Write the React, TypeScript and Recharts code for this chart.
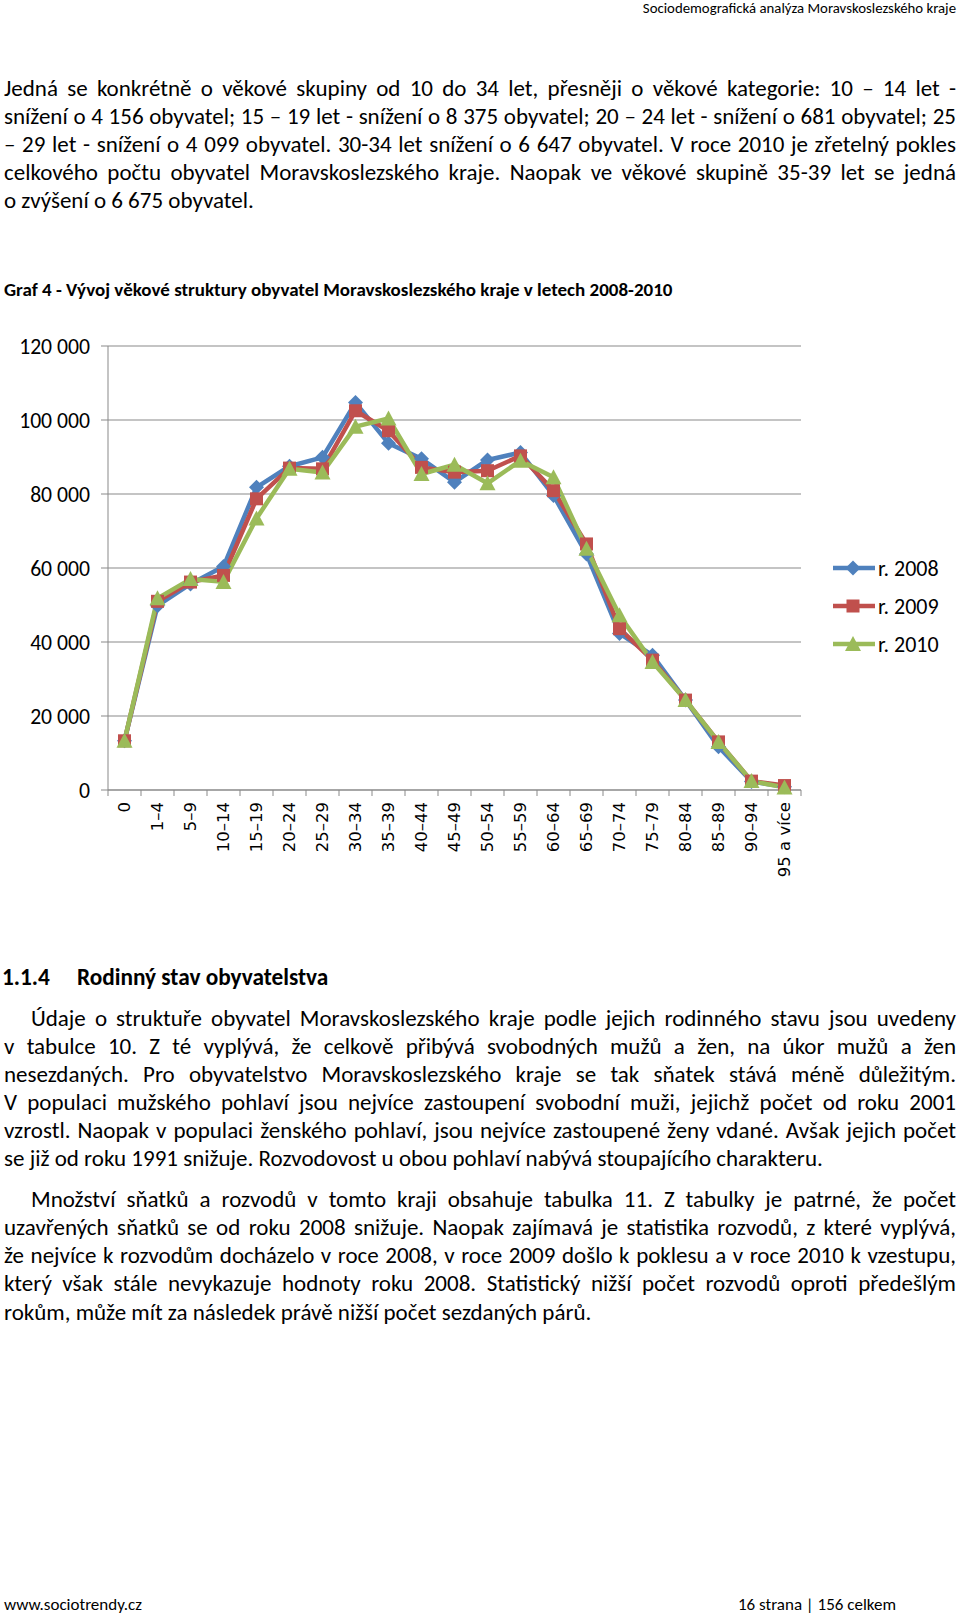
import React from 'react';
import { LineChart, Line, XAxis, YAxis, CartesianGrid, Legend } from 'recharts';

const categories = ['0', '1–4', '5–9', '10–14', '15–19', '20–24', '25–29', '30–34', '35–39', '40–44', '45–49', '50–54', '55–59', '60–64', '65–69', '70–74', '75–79', '80–84', '85–89', '90–94', '95 a více'];
const r2008 = [13300, 49800, 55700, 60400, 81800, 87500, 89900, 104700, 93700, 89500, 83200, 89200, 91200, 79600, 63800, 42300, 36400, 24300, 11700, 2300, 900];
const r2009 = [13300, 51000, 56200, 58000, 78700, 87000, 86800, 102500, 97100, 87200, 85900, 86300, 90300, 80900, 66500, 43600, 35100, 24300, 13000, 2400, 1200];
const r2010 = [13300, 51800, 57000, 56250, 73400, 86800, 85800, 98200, 100400, 85400, 87900, 82900, 89000, 84500, 65200, 47200, 34600, 24300, 13000, 2400, 700];
const yTicks = [0, 20000, 40000, 60000, 80000, 100000, 120000];
const seriesNames = ['r. 2008', 'r. 2009', 'r. 2010'];

const headerText = 'Sociodemografická analýza Moravskoslezského kraje';
const para1 = [
  'Jedná se konkrétně o věkové skupiny od 10 do 34 let, přesněji o věkové kategorie: 10 – 14 let -',
  'snížení o 4 156 obyvatel; 15 – 19 let - snížení o 8 375 obyvatel; 20 – 24 let - snížení o 681 obyvatel; 25',
  '– 29 let - snížení o 4 099 obyvatel. 30-34 let snížení o 6 647 obyvatel. V roce 2010 je zřetelný pokles',
  'celkového počtu obyvatel Moravskoslezského kraje. Naopak ve věkové skupině 35-39 let se jedná',
  'o zvýšení o 6 675 obyvatel.',
];
const chartTitle = 'Graf 4 - Vývoj věkové struktury obyvatel Moravskoslezského kraje v letech 2008-2010';
const headingNum = '1.1.4';
const headingText = 'Rodinný stav obyvatelstva';
const para2 = [
  'Údaje o struktuře obyvatel Moravskoslezského kraje podle jejich rodinného stavu jsou uvedeny',
  'v tabulce 10.  Z té vyplývá, že celkově přibývá svobodných mužů a žen, na úkor mužů a žen',
  'nesezdaných. Pro obyvatelstvo Moravskoslezského kraje se tak sňatek stává méně důležitým.',
  'V populaci mužského pohlaví jsou nejvíce zastoupení svobodní muži, jejichž počet od roku 2001',
  'vzrostl. Naopak v populaci ženského pohlaví, jsou nejvíce zastoupené ženy vdané. Avšak jejich počet',
  'se již od roku 1991 snižuje. Rozvodovost u obou pohlaví nabývá stoupajícího charakteru.',
];
const para3 = [
  'Množství sňatků a rozvodů v tomto kraji obsahuje tabulka 11. Z tabulky je patrné, že počet',
  'uzavřených sňatků se od roku 2008 snižuje. Naopak zajímavá je statistika rozvodů, z které vyplývá,',
  'že nejvíce k rozvodům docházelo v roce 2008, v roce 2009 došlo k poklesu a v roce 2010 k vzestupu,',
  'který však stále nevykazuje hodnoty roku 2008. Statistický nižší počet rozvodů oproti předešlým',
  'rokům, může mít za následek právě nižší počet sezdaných párů.',
];
const footerLeft = 'www.sociotrendy.cz';
const footerRight = '16 strana | 156 celkem';

const data = categories.map((c, i) => ({ cat: c, a: r2008[i], b: r2009[i], c: r2010[i] }));

const BLUE = '#4F81BD';
const RED = '#C0504D';
const GREEN = '#9BBB59';
const GRID = '#898989';
const FONT = 'Carlito, Lato, "Noto Sans", sans-serif';

const fmt = (v: number) => String(v).replace(/\B(?=(\d{3})+(?!\d))/g, ' ');

function markerShape(kind: string, cx: number, cy: number, key?: string) {
  if (kind === 'a') {
    const r = 7.5;
    return <polygon key={key} points={`${cx},${cy - r} ${cx + r},${cy} ${cx},${cy + r} ${cx - r},${cy}`} fill={BLUE} />;
  }
  if (kind === 'b') {
    const s = 13;
    return <rect key={key} x={cx - s / 2} y={cy - s / 2} width={s} height={s} fill={RED} />;
  }
  const w = 16, h = 14;
  return <polygon key={key} points={`${cx},${cy - h / 2 - 1} ${cx + w / 2},${cy + h / 2} ${cx - w / 2},${cy + h / 2}`} fill={GREEN} />;
}

const makeDot = (kind: string) => (props: any) => {
  const { cx, cy, index } = props;
  if (cx == null || cy == null) return <g key={`${kind}-${index}`} />;
  return markerShape(kind, cx, cy, `${kind}-${index}`);
};

const XTick = (props: any) => {
  const { x, y, payload, index } = props;
  const half = payload && payload.offset ? payload.offset : 16.5;
  const axisY = y - 12;
  const last = index === categories.length - 1;
  return (
    <g>
      <line x1={x - half} x2={x - half} y1={axisY} y2={axisY + 6} stroke={GRID} strokeWidth={1} />
      {last && <line x1={x + half} x2={x + half} y1={axisY} y2={axisY + 6} stroke={GRID} strokeWidth={1} />}
      <text
        x={x}
        y={y}
        transform={`rotate(-90, ${x}, ${y})`}
        textAnchor="end"
        dy="0.36em"
        fill="#000"
        fontSize={16.5}
        fontFamily='"DejaVu Sans", Verdana, sans-serif'
      >
        {payload.value}
      </text>
    </g>
  );
};

const LegendContent = (props: any) => {
  const payload = props.payload || [];
  return (
    <div>
      {payload.map((p: any, i: number) => {
        const key = p.dataKey as string;
        const color = key === 'a' ? BLUE : key === 'b' ? RED : GREEN;
        return (
          <div key={i} style={{ height: 38, display: 'flex', alignItems: 'center' }}>
            <svg width={46} height={38} style={{ display: 'block' }}>
              <line x1={1} x2={43} y1={19} y2={19} stroke={color} strokeWidth={4.5} />
              {markerShape(key, 21, 19)}
            </svg>
            <span style={{ fontFamily: FONT, fontSize: 22, color: '#000', marginLeft: 0 }}>{p.value}</span>
          </div>
        );
      })}
    </div>
  );
};

function Lines({ lines, center, indent }: { lines: string[]; center: number; indent: number }) {
  return (
    <>
      {lines.map((t, i) => {
        const isLast = i === lines.length - 1;
        return (
          <div
            key={i}
            style={{
              position: 'absolute',
              left: 4,
              width: 952,
              top: center + i * 28.08 - 14,
              height: 28,
              lineHeight: '28px',
              fontSize: 23,
              fontFamily: FONT,
              color: '#000',
              textAlign: isLast ? 'left' : 'justify',
              textAlignLast: isLast ? 'left' : 'justify',
              paddingLeft: i === 0 ? indent : 0,
              boxSizing: 'border-box',
            } as React.CSSProperties}
          >
            {t}
          </div>
        );
      })}
    </>
  );
}

export default function App() {
  return (
    <div style={{ position: 'absolute', left: 0, top: 0, width: 960, height: 1617, background: '#fff', overflow: 'hidden' }}>
      <div style={{ position: 'absolute', left: 0, top: 0, width: 956, textAlign: 'right', fontFamily: FONT, fontSize: 14.8, lineHeight: '16px', color: '#000', whiteSpace: 'nowrap' }}>
        {headerText}
      </div>

      <Lines lines={para1} center={87.6} indent={0} />

      <div style={{ position: 'absolute', left: 4, top: 277.7, lineHeight: '24px', fontFamily: FONT, fontWeight: 700, fontSize: 19, color: '#000', whiteSpace: 'nowrap' }}>
        {chartTitle}
      </div>

      <div style={{ position: 'absolute', left: 0, top: 330 }}>
        <LineChart
          width={960}
          height={560}
          data={data}
          margin={{ top: 16, right: 159, bottom: 0, left: 0 }}
          style={{ fontFamily: FONT }}
        >
          <CartesianGrid vertical={false} stroke={GRID} strokeWidth={1} />
          <XAxis
            dataKey="cat"
            scale="band"
            interval={0}
            height={100}
            tickLine={false}
            tickSize={6}
            tickMargin={6}
            axisLine={{ stroke: GRID, strokeWidth: 1 }}
            tick={<XTick />}
          />
          <YAxis
            width={108}
            domain={[0, 120000]}
            ticks={yTicks}
            tickFormatter={fmt}
            tickSize={7}
            tickMargin={11}
            tickLine={{ stroke: GRID, strokeWidth: 1 }}
            axisLine={{ stroke: GRID, strokeWidth: 1 }}
            tick={{ fill: '#000', fontSize: 21.7, fontFamily: FONT }}
            allowDecimals={false}
          />
          <Legend
            layout="vertical"
            align="center"
            verticalAlign="middle"
            wrapperStyle={{ left: 832, top: 219, width: 128 }}
            content={<LegendContent />}
          />
          <Line type="linear" dataKey="a" name={seriesNames[0]} stroke={BLUE} strokeWidth={4.5} strokeLinejoin="round" dot={makeDot('a')} activeDot={false} isAnimationActive={false} />
          <Line type="linear" dataKey="b" name={seriesNames[1]} stroke={RED} strokeWidth={4.5} strokeLinejoin="round" dot={makeDot('b')} activeDot={false} isAnimationActive={false} />
          <Line type="linear" dataKey="c" name={seriesNames[2]} stroke={GREEN} strokeWidth={4.5} strokeLinejoin="round" dot={makeDot('c')} activeDot={false} isAnimationActive={false} />
        </LineChart>
      </div>

      <div style={{ position: 'absolute', left: 2, top: 962.5, lineHeight: '28px', fontFamily: FONT, fontWeight: 700, fontSize: 23.3, color: '#000', whiteSpace: 'nowrap' }}>
        {headingNum}
      </div>
      <div style={{ position: 'absolute', left: 77, top: 962.5, lineHeight: '28px', fontFamily: FONT, fontWeight: 700, fontSize: 23.3, color: '#000', whiteSpace: 'nowrap' }}>
        {headingText}
      </div>

      <Lines lines={para2} center={1017.7} indent={27} />
      <Lines lines={para3} center={1199.2} indent={27} />

      <div style={{ position: 'absolute', left: 4, top: 1595.4, lineHeight: '20px', fontFamily: FONT, fontSize: 17, color: '#000', whiteSpace: 'nowrap' }}>
        {footerLeft}
      </div>
      <div style={{ position: 'absolute', left: 738, top: 1595.4, lineHeight: '20px', fontFamily: FONT, fontSize: 17, color: '#000', whiteSpace: 'nowrap' }}>
        {footerRight}
      </div>
    </div>
  );
}
